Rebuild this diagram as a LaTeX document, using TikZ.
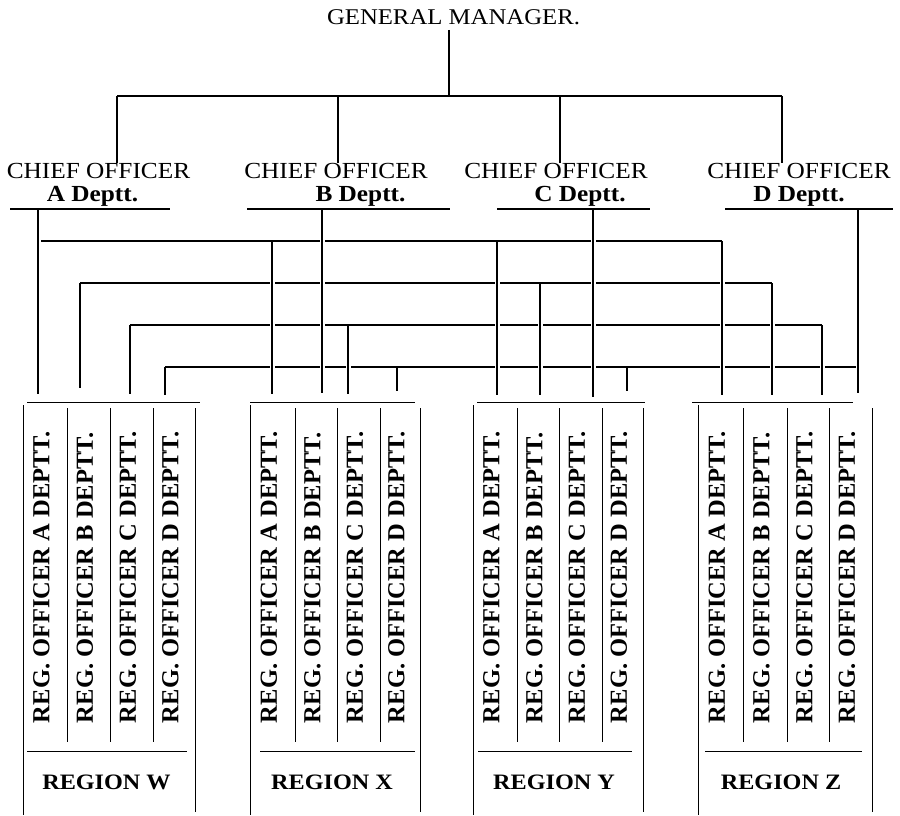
\documentclass[tikz,border=0pt]{standalone}
\usepackage{fontspec}
\setmainfont{Liberation Serif}
\newfontfamily\hdr[FakeStretch=1.1]{Liberation Serif}
\begin{document}
\begin{tikzpicture}[x=1pt,y=-1pt,
  txt/.style={inner sep=0pt, outer sep=0pt},
  gmtext/.style={txt, font=\hdr\fontsize{22.5}{27}\selectfont, anchor=base},
  chief/.style={txt, font=\hdr\fontsize{23}{22.5}\selectfont, anchor=base, align=center},
  regoff/.style={txt, font=\bfseries\fontsize{24.5}{28}\selectfont, rotate=90, anchor=west},
  regname/.style={txt, font=\hdr\bfseries\fontsize{22}{27}\selectfont, anchor=base},
  tree/.style={line width=2pt},
  ruleline/.style={line width=1.8pt},
  link/.style={line width=1.4pt},
  drop/.style={line width=1.3pt, preaction={draw=white, line width=5pt, shorten <=3pt}},
  boxline/.style={line width=1pt}]
\useasboundingbox (0,0) rectangle (900,816);

% ---- General manager ----
\node[gmtext] (gm) at (453.5,25) {GENERAL MANAGER.};
\coordinate (gmtop) at (449,30);
\coordinate (gmbar) at (449,96);
\draw[tree] (gmtop) -- (gmbar);

% ---- Chief officers (second line shifted as printed) ----
\node[chief] (coA) at (98.5,201) {CHIEF OFFICER\\{\bfseries A Deptt.}\hspace*{12pt}};
\node[chief] (coB) at (336,201) {CHIEF OFFICER\\\hspace*{49pt}{\bfseries B Deptt.}};
\node[chief] (coC) at (556,201) {CHIEF OFFICER\\\hspace*{48pt}{\bfseries C Deptt.}};
\node[chief] (coD) at (799,201) {CHIEF OFFICER\\{\bfseries D Deptt.}};
\foreach \k/\vx/\ul/\ur in {A/117/10/170, B/338/247/450, C/560/497/650, D/782/725/893} {
  \coordinate (bar\k) at (\vx,96);
  \coordinate (ct\k) at (\vx,163);
  \coordinate (ul\k s) at (\ul,209);
  \coordinate (ul\k e) at (\ur,209);
}
\draw[tree] (barA) -- (barD);
\foreach \k in {A,B,C,D} {
  \draw[tree] (bar\k) -- (ct\k);
  \draw[ruleline] (ul\k s) -- (ul\k e);
}

% ---- vertical drops (name/x/top/bottom) ----
\foreach \n/\x/\t/\b in {AW/38/209/394, BW/80/283/388, CW/130/325/394, DW/165/367/395,
                          AX/272/241/394, BX/322/209/393, CX/348/325/394, DX/397/367/391,
                          AY/497/241/395, BY/540/283/395, CY/593/209/397, DY/627/367/391,
                          AZ/722/241/395, BZ/772/283/395, CZ/822/325/395, DZ/858/209/393} {
  \coordinate (v\n t) at (\x,\t);
  \coordinate (v\n b) at (\x,\b);
}
\coordinate (h1s) at (38,241);
\coordinate (h4e) at (858,367);

% horizontal department lines
\draw[link] (h1s) -- (vAZt);
\draw[link] (vBWt) -- (vBZt);
\draw[link] (vCWt) -- (vCZt);
\draw[link] (vDWt) -- (h4e);

% verticals (drawn over, with small gaps at crossings)
\foreach \n in {AW,BW,CW,DW,AX,BX,CX,DX,AY,BY,CY,DY,AZ,BZ,CZ,DZ} {
  \draw[drop] (v\n t) -- (v\n b);
}

% ---- Region boxes ----
\foreach \r/\a/\b/\c/\d/\e/\tl/\tr/\bl/\br/\lx in {
    W/23/67/110/153/195/27/200/27/187/106.5,
    X/250/295/337/380/420/250/415/260/415/332,
    Y/473/517/559/602/643/477/645/478/632/554,
    Z/698/743/787/829/872/692/853/705/862/781} {
  \draw[boxline] (\tl,402) -- (\tr,402);
  \draw[boxline] (\a,405) -- (\a,815);
  \draw[boxline] (\e,408) -- (\e,812);
  \foreach \dd in {\b,\c,\d} { \draw[boxline] (\dd,408) -- (\dd,742); }
  \draw[boxline] (\bl,751) -- (\br,751);
  \node[regoff] (ro\r A) at ({(\a+\b)/2-3.5},723) {REG. OFFICER A DEPTT.};
  \node[regoff] (ro\r B) at ({(\b+\c)/2-3.5},723) {REG. OFFICER B DEPTT.};
  \node[regoff] (ro\r C) at ({(\c+\d)/2-3.5},723) {REG. OFFICER C DEPTT.};
  \node[regoff] (ro\r D) at ({(\d+\e)/2-3.5},723) {REG. OFFICER D DEPTT.};
  \node[regname] (rg\r) at (\lx,789) {REGION \r};
}
\end{tikzpicture}
\end{document}
